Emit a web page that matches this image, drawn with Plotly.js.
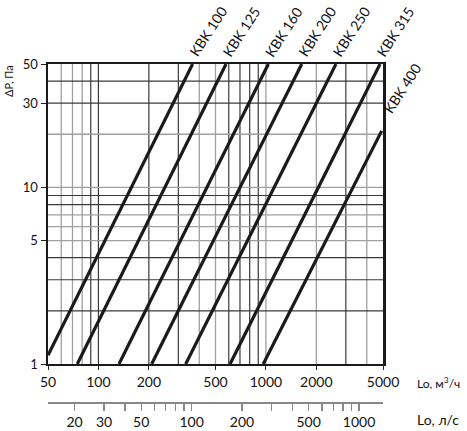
<!DOCTYPE html>
<html>
<head>
<meta charset="utf-8">
<script src="https://cdn.plot.ly/plotly-3.0.1.min.js"></script>
<style>html,body{margin:0;padding:0;background:#fff;}#chart{width:467px;height:431px;}</style>
</head>
<body>
<div id="chart"></div>
<script>
// Series: each duct size drawn as a straight line on log-log axes (start, end points)
const seriesNames = ['KBK 100', 'KBK 125', 'KBK 160', 'KBK 200', 'KBK 250', 'KBK 315', 'KBK 400'];
const flowStart = [50, 74.8, 132.7, 208, 332, 611, 964];       // m3/h
const flowEnd   = [365, 578, 1034, 1636, 2619, 4800, 4910];    // m3/h
const dpStart   = [1.12, 1, 1, 1, 1, 1, 1];                    // Pa
const dpEnd     = [50, 50, 50, 50, 50, 50, 20.9];              // Pa

// Axis ticks and labels
const xTickVals = [50, 100, 200, 500, 1000, 2000, 5000];
const xTickText = ['50', '100', '200', '500', '1000', '2000', '5000'];
const yTickVals = [1, 5, 10, 30, 50];
const yTickText = ['1', '5', '10', '30', '50'];
const lpsTickVals = [20, 30, 50, 100, 200, 500, 1000];
const lpsTickText = ['20', '30', '50', '100', '200', '500', '1000'];
const lpsMinorVals = [40, 60, 70, 80, 90, 300, 400, 600, 700, 800, 900];

// Gridlines
const xGridDark = [90, 100, 200, 300, 600, 700, 800, 900, 3000];
const xGridGray = [60, 70, 80, 400, 500, 1000, 2000, 4000];
const yGridDark = [2, 3, 4, 8, 9, 30, 40];
const yGridGray = [5, 6, 7, 10, 20];

const xMin = 50, xMax = 5000, yMin = 1, yMax = 50;
const m3hPerLps = 3.6;

const FONT = 'Lato, "Open Sans", "DejaVu Sans", sans-serif';
const lg = Math.log10;

const traces = seriesNames.map((n, i) => ({
  type: 'scatter', mode: 'lines', name: n,
  x: [flowStart[i], flowEnd[i]], y: [dpStart[i], dpEnd[i]],
  xaxis: 'x', yaxis: 'y',
  line: {color: '#1a1a1a', width: 3.2},
  hoverinfo: 'skip', showlegend: false
}));
// helper (invisible) trace for the l/s axis subplot
traces.push({
  type: 'scatter', mode: 'markers', x: lpsTickVals, y: lpsTickVals.map(() => 0),
  xaxis: 'x2', yaxis: 'y2', marker: {opacity: 0}, hoverinfo: 'skip', showlegend: false
});

const shapes = [];
xGridGray.forEach(v => shapes.push({type: 'line', xref: 'x', yref: 'y domain', x0: v, x1: v, y0: 0, y1: 1, line: {color: '#a0a0a0', width: 1.3}, layer: 'below'}));
xGridDark.forEach(v => shapes.push({type: 'line', xref: 'x', yref: 'y domain', x0: v, x1: v, y0: 0, y1: 1, line: {color: '#3a3a3a', width: 1.2}, layer: 'below'}));
yGridGray.forEach(v => shapes.push({type: 'line', xref: 'x domain', yref: 'y', x0: 0, x1: 1, y0: v, y1: v, line: {color: '#a0a0a0', width: 1.3}, layer: 'below'}));
yGridDark.forEach(v => shapes.push({type: 'line', xref: 'x domain', yref: 'y', x0: 0, x1: 1, y0: v, y1: v, line: {color: '#3a3a3a', width: 1.2}, layer: 'below'}));

const annotations = seriesNames.map((n, i) => {
  const last = i === seriesNames.length - 1;
  return {
    text: n, xref: 'x', yref: 'y', x: lg(flowEnd[i]), y: lg(dpEnd[i]),
    xanchor: 'left', yanchor: 'bottom', textangle: -57, showarrow: false,
    xshift: last ? -5 : -10, yshift: last ? 12 : 2,
    font: {family: FONT, size: 14, color: '#111'}
  };
});
annotations.push({text: 'ΔP, Па', xref: 'paper', yref: 'paper', x: -0.116, y: 0.95, xanchor: 'center', yanchor: 'middle',
  textangle: -90, showarrow: false, font: {family: FONT, size: 11, color: '#111'}});
annotations.push({text: 'Lo, м<sup>3</sup>/ч', xref: 'paper', yref: 'paper', x: 1.095, y: 0.056, xanchor: 'left', yanchor: 'middle',
  showarrow: false, font: {family: FONT, size: 12, color: '#111'}});
annotations.push({text: 'Lo, л/с', xref: 'paper', yref: 'paper', x: 1.095, y: -0.053, xanchor: 'left', yanchor: 'middle',
  showarrow: false, font: {family: FONT, size: 14, color: '#111'}});

const layout = {
  width: 467, height: 431,
  margin: {l: 48, r: 84, t: 64, b: 29, pad: 0},
  paper_bgcolor: '#fff', plot_bgcolor: '#fff',
  showlegend: false,
  font: {family: FONT, color: '#111'},
  xaxis: {
    type: 'log', range: [lg(xMin), lg(xMax)], domain: [0, 1], anchor: 'y',
    tickvals: xTickVals, ticktext: xTickText, ticks: 'outside', ticklen: 4, tickcolor: '#222', tickwidth: 1,
    showgrid: false, zeroline: false, showline: true, mirror: true, linecolor: '#1a1a1a', linewidth: 2,
    tickfont: {family: FONT, size: 14, color: '#111'}, fixedrange: true
  },
  yaxis: {
    type: 'log', range: [lg(yMin), lg(yMax)], domain: [0.1124, 1], anchor: 'x',
    tickvals: yTickVals, ticktext: yTickText, ticks: 'outside', ticklen: 5, tickcolor: '#222', tickwidth: 1,
    showgrid: false, zeroline: false, showline: true, mirror: true, linecolor: '#1a1a1a', linewidth: 2.5,
    tickfont: {family: FONT, size: 13, color: '#111'}, fixedrange: true
  },
  xaxis2: {
    type: 'log', range: [lg(xMin / m3hPerLps), lg(xMax / m3hPerLps)], domain: [0, 1], anchor: 'y2',
    tickvals: lpsTickVals, ticktext: lpsTickText, ticks: 'outside', ticklen: 7, tickcolor: '#888', tickwidth: 1.3,
    minor: {tickvals: lpsMinorVals, ticks: 'outside', ticklen: 7, tickcolor: '#888', tickwidth: 1.3, showgrid: false},
    showgrid: false, zeroline: false, showline: true, linecolor: '#888', linewidth: 1.5,
    tickfont: {family: FONT, size: 14, color: '#111'}, fixedrange: true
  },
  yaxis2: {domain: [0, 0.003], anchor: 'x2', visible: false, range: [-1, 1], fixedrange: true},
  shapes: shapes,
  annotations: annotations
};

Plotly.newPlot('chart', traces, layout, {staticPlot: true, displayModeBar: false});
</script>
</body>
</html>
